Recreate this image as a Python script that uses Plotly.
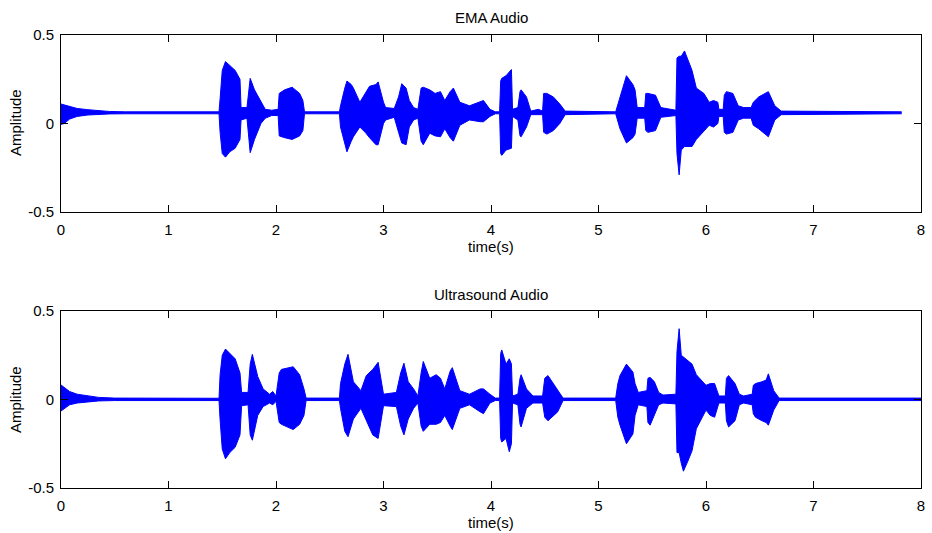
import plotly.graph_objects as go

# ---- EMA audio envelope (time s, upper, lower) ----
ema_t = [0.00, 0.03, 0.08, 0.15, 0.25, 0.35, 0.45, 0.60, 1.00, 1.47,
         1.48, 1.50, 1.53, 1.57, 1.62, 1.665, 1.675, 1.73, 1.75, 1.76, 1.80, 1.86, 1.90, 1.96,
         2.02, 2.03, 2.08, 2.15, 2.22, 2.25, 2.265, 2.59,
         2.60, 2.64, 2.66, 2.70, 2.72, 2.78, 2.83, 2.87, 2.93, 2.95, 3.00, 3.02, 3.10,
         3.14, 3.17, 3.21, 3.24, 3.28, 3.32, 3.35, 3.37, 3.43, 3.48, 3.53, 3.57, 3.62, 3.65,
         3.71, 3.80, 3.90, 3.93, 3.99, 4.04, 4.08,
         4.09, 4.10, 4.14, 4.19, 4.20, 4.25, 4.27, 4.28, 4.33, 4.37, 4.44, 4.48,
         4.49, 4.52, 4.58, 4.64, 4.69, 5.16,
         5.20, 5.26, 5.32, 5.34, 5.36, 5.43, 5.44, 5.46, 5.53, 5.58, 5.72,
         5.73, 5.75, 5.77, 5.80, 5.87, 5.91, 5.98, 6.03, 6.07, 6.11, 6.12, 6.16,
         6.17, 6.19, 6.25, 6.30, 6.35, 6.42, 6.44, 6.49, 6.55, 6.58, 6.64, 6.70, 7.82]
ema_up = [0.11, 0.105, 0.095, 0.085, 0.078, 0.072, 0.068, 0.066, 0.066, 0.066,
          0.14, 0.30, 0.35, 0.33, 0.30, 0.25, 0.09, 0.09, 0.20, 0.255, 0.19, 0.12, 0.08, 0.075,
          0.08, 0.17, 0.19, 0.205, 0.17, 0.13, 0.066, 0.066,
          0.10, 0.20, 0.24, 0.22, 0.20, 0.12, 0.17, 0.21, 0.22, 0.235, 0.12, 0.09, 0.085,
          0.15, 0.225, 0.20, 0.13, 0.09, 0.08, 0.20, 0.205, 0.19, 0.17, 0.18, 0.13, 0.18, 0.20,
          0.12, 0.10, 0.12, 0.13, 0.08, 0.066, 0.066,
          0.24, 0.255, 0.27, 0.305, 0.08, 0.09, 0.18, 0.19, 0.15, 0.07, 0.08, 0.07,
          0.17, 0.17, 0.15, 0.11, 0.07, 0.066,
          0.15, 0.27, 0.22, 0.19, 0.09, 0.09, 0.17, 0.17, 0.16, 0.09, 0.075,
          0.37, 0.38, 0.38, 0.41, 0.30, 0.20, 0.17, 0.12, 0.13, 0.12, 0.08, 0.08,
          0.16, 0.18, 0.17, 0.10, 0.09, 0.09, 0.12, 0.15, 0.17, 0.18, 0.10, 0.07, 0.066]
ema_lo = [-0.005, 0.0, 0.025, 0.04, 0.048, 0.052, 0.054, 0.055, 0.055, 0.055,
          -0.05, -0.17, -0.19, -0.16, -0.14, -0.09, 0.02, 0.03, -0.10, -0.165, -0.09, 0.0, 0.03, 0.045,
          0.045, -0.07, -0.08, -0.09, -0.07, -0.04, 0.055, 0.055,
          -0.02, -0.12, -0.16, -0.10, -0.075, -0.02, -0.05, -0.08, -0.12, -0.12, 0.0, 0.02, 0.035,
          -0.05, -0.11, -0.12, -0.02, 0.02, 0.03, -0.10, -0.12, -0.055, -0.07, -0.075, -0.03, -0.08, -0.10,
          -0.01, 0.02, 0.01, 0.01, 0.04, 0.055, 0.055,
          -0.17, -0.18, -0.15, -0.14, 0.04, 0.02, -0.07, -0.075, -0.02, 0.05, 0.05, 0.05,
          -0.05, -0.06, -0.04, 0.0, 0.05, 0.055,
          -0.03, -0.11, -0.08, -0.06, 0.03, 0.03, -0.04, -0.05, -0.04, 0.035, 0.045,
          -0.17, -0.29, -0.15, -0.13, -0.13, -0.09, -0.04, -0.01, -0.02, 0.0, 0.04, 0.04,
          -0.05, -0.06, -0.05, 0.02, 0.03, 0.03, -0.01, -0.03, -0.06, -0.075, 0.02, 0.05, 0.055]

# ---- Ultrasound audio envelope ----
us_t = [0.00, 0.03, 0.08, 0.15, 0.25, 0.35, 0.50, 1.47,
        1.48, 1.50, 1.53, 1.57, 1.62, 1.665, 1.68, 1.74, 1.76, 1.78, 1.83, 1.88, 1.94, 1.97, 2.00,
        2.03, 2.05, 2.16, 2.22, 2.26, 2.28, 2.59,
        2.60, 2.64, 2.67, 2.72, 2.79, 2.84, 2.90, 2.95, 3.00, 3.12,
        3.16, 3.19, 3.23, 3.28, 3.32, 3.35, 3.37, 3.43, 3.49, 3.53, 3.57, 3.62, 3.64,
        3.71, 3.80, 3.90, 3.93, 3.99, 4.04, 4.08,
        4.09, 4.10, 4.14, 4.17, 4.19, 4.20, 4.25, 4.27, 4.28, 4.33, 4.39, 4.48,
        4.50, 4.53, 4.58, 4.62, 4.67, 5.16,
        5.18, 5.20, 5.26, 5.32, 5.34, 5.37, 5.45, 5.46, 5.48, 5.52, 5.56, 5.60, 5.72,
        5.73, 5.75, 5.77, 5.79, 5.83, 5.87, 5.91, 6.00, 6.04, 6.08, 6.12, 6.18,
        6.19, 6.21, 6.27, 6.31, 6.35, 6.43, 6.44, 6.46, 6.52, 6.56, 6.58, 6.63, 6.68, 8.00]
us_up = [0.082, 0.07, 0.045, 0.03, 0.02, 0.012, 0.008, 0.007,
         0.14, 0.25, 0.285, 0.26, 0.23, 0.15, 0.04, 0.04, 0.20, 0.255, 0.13, 0.06, 0.03, 0.045, 0.02,
         0.15, 0.17, 0.185, 0.14, 0.06, 0.008, 0.008,
         0.09, 0.20, 0.255, 0.10, 0.05, 0.135, 0.17, 0.21, 0.03, 0.04,
         0.15, 0.205, 0.10, 0.06, 0.02, 0.15, 0.215, 0.12, 0.14, 0.12, 0.06, 0.16, 0.18,
         0.05, 0.03, 0.06, 0.06, 0.03, 0.008, 0.008,
         0.26, 0.28, 0.20, 0.23, 0.20, 0.02, 0.03, 0.12, 0.14, 0.06, 0.02, 0.02,
         0.12, 0.135, 0.09, 0.06, 0.008, 0.008,
         0.09, 0.135, 0.20, 0.155, 0.09, 0.04, 0.05, 0.12, 0.125, 0.10, 0.04, 0.025, 0.03,
         0.27, 0.40, 0.25, 0.24, 0.22, 0.20, 0.14, 0.08, 0.09, 0.09, 0.02, 0.02,
         0.12, 0.135, 0.09, 0.03, 0.02, 0.03, 0.08, 0.09, 0.10, 0.11, 0.145, 0.05, 0.008, 0.008]
us_lo = [-0.065, -0.05, -0.03, -0.02, -0.012, -0.008, -0.006, -0.006,
         -0.115, -0.28, -0.335, -0.30, -0.27, -0.20, -0.035, -0.03, -0.20, -0.23, -0.09, -0.04, -0.02, -0.03, -0.01,
         -0.13, -0.14, -0.17, -0.14, -0.09, -0.006, -0.006,
         -0.05, -0.18, -0.21, -0.11, -0.05, -0.12, -0.20, -0.22, -0.035, -0.04,
         -0.15, -0.20, -0.11, -0.05, -0.02, -0.15, -0.18, -0.14, -0.14, -0.13, -0.09, -0.15, -0.17,
         -0.05, -0.03, -0.07, -0.08, -0.02, -0.006, -0.006,
         -0.22, -0.24, -0.22, -0.295, -0.25, -0.02, -0.03, -0.14, -0.155, -0.05, -0.02, -0.02,
         -0.10, -0.12, -0.09, -0.07, -0.006, -0.006,
         -0.10, -0.145, -0.25, -0.195, -0.09, -0.03, -0.04, -0.13, -0.145, -0.09, -0.03, -0.02, -0.025,
         -0.30, -0.30, -0.36, -0.405, -0.35, -0.29, -0.165, -0.06, -0.09, -0.10, -0.02, -0.02,
         -0.12, -0.155, -0.12, -0.03, -0.02, -0.03, -0.08, -0.10, -0.12, -0.13, -0.145, -0.06, -0.006, -0.006]

x_ticks = [0, 1, 2, 3, 4, 5, 6, 7, 8]
y_ticks = [-0.5, 0, 0.5]
y_ticklabels = ["-0.5", "0", "0.5"]
titles = ["EMA Audio", "Ultrasound Audio"]
x_label = "time(s)"
y_label = "Amplitude"

BLUE = "#0000FF"
FONT = "Liberation Sans, Arial, Helvetica, sans-serif"

fig = go.Figure()

def add_wave(t, up, lo, xa, ya):
    fig.add_trace(go.Scatter(x=t, y=lo, mode="lines", line=dict(color=BLUE, width=1),
                             xaxis=xa, yaxis=ya, showlegend=False, hoverinfo="skip"))
    fig.add_trace(go.Scatter(x=t, y=up, mode="lines", line=dict(color=BLUE, width=1),
                             fill="tonexty", fillcolor=BLUE,
                             xaxis=xa, yaxis=ya, showlegend=False, hoverinfo="skip"))

add_wave(ema_t, ema_up, ema_lo, "x", "y")
add_wave(us_t, us_up, us_lo, "x2", "y2")

W, H = 932, 533
xdom = [61 / W, 921 / W]
ydom1 = [1 - 212 / H, 1 - 35 / H]
ydom2 = [1 - 488 / H, 1 - 311 / H]
xc = 0.5 * (xdom[0] + xdom[1])

axis_common = dict(showline=True, linecolor="black", linewidth=1, mirror="allticks",
                   ticks="inside", ticklen=7, tickcolor="black", showgrid=False, zeroline=False,
                   automargin=False,
                   tickfont=dict(family=FONT, size=15, color="black"))

fig.update_layout(
    template="none",
    width=W, height=H, paper_bgcolor="white", plot_bgcolor="white",
    margin=dict(l=0, r=0, t=0, b=0, pad=0),
    font=dict(family=FONT, color="black"),
    xaxis=dict(domain=xdom, range=[0, 8], tickvals=x_ticks, anchor="y", ticklabelstandoff=4, **axis_common),
    yaxis=dict(domain=ydom1, range=[-0.5, 0.5], tickvals=y_ticks, ticktext=y_ticklabels, anchor="x",
               ticklabelstandoff=3, **axis_common),
    xaxis2=dict(domain=xdom, range=[0, 8], tickvals=x_ticks, anchor="y2", ticklabelstandoff=4, **axis_common),
    yaxis2=dict(domain=ydom2, range=[-0.5, 0.5], tickvals=y_ticks, ticktext=y_ticklabels, anchor="x2",
                ticklabelstandoff=3, **axis_common),
    annotations=[
        dict(text=titles[0], x=xc, y=1 - 17 / H, xref="paper", yref="paper",
             xanchor="center", yanchor="middle", showarrow=False, font=dict(size=15)),
        dict(text=titles[1], x=xc, y=1 - 294 / H, xref="paper", yref="paper",
             xanchor="center", yanchor="middle", showarrow=False, font=dict(size=15)),
        dict(text=x_label, x=xc, y=1 - 247 / H, xref="paper", yref="paper",
             xanchor="center", yanchor="middle", showarrow=False, font=dict(size=15)),
        dict(text=x_label, x=xc, y=1 - 522 / H, xref="paper", yref="paper",
             xanchor="center", yanchor="middle", showarrow=False, font=dict(size=15)),
        dict(text=y_label, x=15 / W, y=1 - 123 / H, xref="paper", yref="paper", textangle=-90,
             xanchor="center", yanchor="middle", showarrow=False, font=dict(size=15)),
        dict(text=y_label, x=15 / W, y=1 - 400 / H, xref="paper", yref="paper", textangle=-90,
             xanchor="center", yanchor="middle", showarrow=False, font=dict(size=15)),
    ],
)

fig.write_html("out.html",
               config={"displayModeBar": False},
               post_script="document.body.style.margin='0px';document.body.style.padding='0px';"
                           "document.body.style.overflow='hidden';")
